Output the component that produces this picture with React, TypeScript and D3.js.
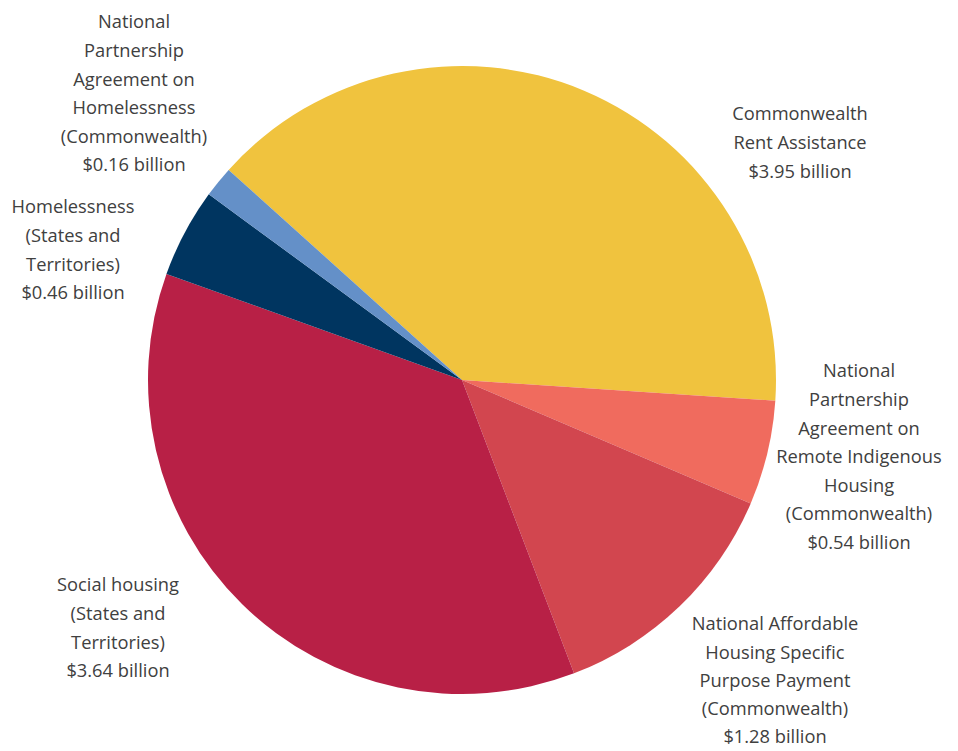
import React from "react";
import * as d3 from "d3";

const categories = [
  "Commonwealth Rent Assistance",
  "National Partnership Agreement on Remote Indigenous Housing (Commonwealth)",
  "National Affordable Housing Specific Purpose Payment (Commonwealth)",
  "Social housing (States and Territories)",
  "Homelessness (States and Territories)",
  "National Partnership Agreement on Homelessness (Commonwealth)",
];
const values = [3.95, 0.54, 1.28, 3.64, 0.46, 0.16];
const valueLabels = ["$3.95 billion", "$0.54 billion", "$1.28 billion", "$3.64 billion", "$0.46 billion", "$0.16 billion"];
const labelLines = [
  ["Commonwealth", "Rent Assistance"],
  ["National", "Partnership", "Agreement on", "Remote Indigenous", "Housing", "(Commonwealth)"],
  ["National Affordable", "Housing Specific", "Purpose Payment", "(Commonwealth)"],
  ["Social housing", "(States and", "Territories)"],
  ["Homelessness", "(States and", "Territories)"],
  ["National", "Partnership", "Agreement on", "Homelessness", "(Commonwealth)"],
];
const colors = ["#F0C33E", "#F06B5E", "#D2464F", "#B82046", "#003560", "#6490C8"];

// label anchor (center x, center y of first line)
const labelPos: [number, number][] = [
  [800, 114],
  [859, 371],
  [775, 624],
  [118, 585],
  [73, 207],
  [134, 22],
];

export default function App() {
  const W = 958, H = 751;
  const cx = 462, cy = 380, r = 314;
  const startAngle = (-48 * Math.PI) / 180;
  const pie = d3.pie<number>().sort(null).startAngle(startAngle).endAngle(startAngle + 2 * Math.PI);
  const arcs = pie(values);
  const arcGen = d3.arc<d3.PieArcDatum<number>>().innerRadius(0).outerRadius(r);
  const lh = 28.6;
  return (
    <svg width={W} height={H} style={{ position: "absolute", left: 0, top: 0, background: "#fff" }}>
      <g transform={`translate(${cx},${cy})`}>
        {arcs.map((a, i) => (
          <path key={categories[i]} d={arcGen(a) || ""} fill={colors[i]} />
        ))}
      </g>
      {labelLines.map((lines, i) => {
        const all = [...lines, valueLabels[i]];
        const [x, y] = labelPos[i];
        const step = i === 2 ? 28.2 : lh;
        return (
          <text
            key={i}
            x={x}
            y={y}
            textAnchor="middle"
            fontFamily="'Open Sans', 'Noto Sans', sans-serif"
            fontSize={18.3}
            fill="#404040"
          >
            {all.map((l, j) => (
              <tspan key={j} x={x} y={y + j * step} dy="0.35em">
                {l}
              </tspan>
            ))}
          </text>
        );
      })}
    </svg>
  );
}
